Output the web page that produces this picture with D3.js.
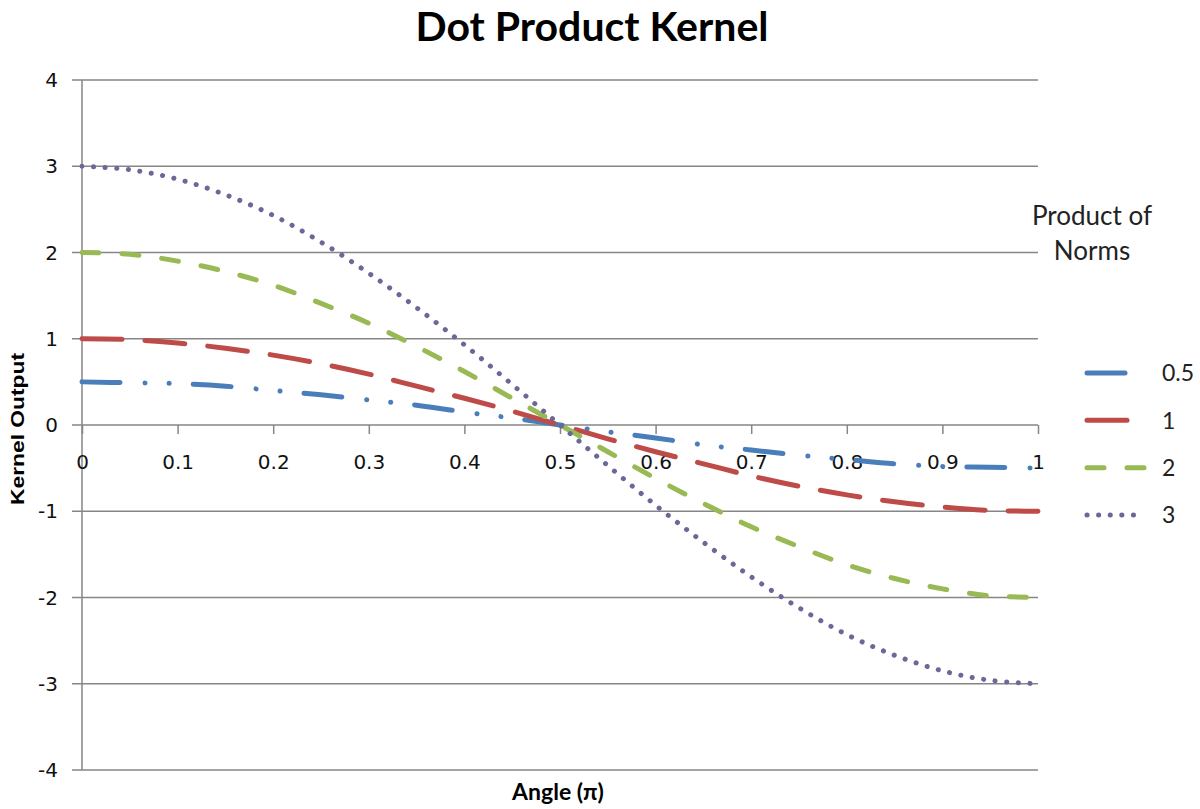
<!DOCTYPE html>
<html lang="en">
  <head>
    <meta charset="UTF-8" />
    <title>Dot Product Kernel</title>
    <script src="https://d3js.org/d3.v7.min.js"></script>
    <style>
      body { margin: 0; background: #fff; }
      .tick text { font-family: "DejaVu Sans", sans-serif; font-size: 20px; fill: #111; }
    </style>
  </head>
  <body>
    <svg width="1200" height="809"></svg>
    <script>
      // angle in units of pi
      const angles = d3.range(0, 1.0001, 0.05);
      // kernel output, one list per product of norms
      const norms = ["0.5", "1", "2", "3"];
      const out05 = [0.5, 0.49, 0.48, 0.45, 0.40, 0.35, 0.29, 0.23, 0.15, 0.08, 0, -0.08, -0.15, -0.23, -0.29, -0.35, -0.40, -0.45, -0.48, -0.49, -0.5];
      const out1 = [1, 0.99, 0.95, 0.89, 0.81, 0.71, 0.59, 0.45, 0.31, 0.16, 0, -0.16, -0.31, -0.45, -0.59, -0.71, -0.81, -0.89, -0.95, -0.99, -1];
      const out2 = [2, 1.98, 1.90, 1.78, 1.62, 1.41, 1.18, 0.91, 0.62, 0.31, 0, -0.31, -0.62, -0.91, -1.18, -1.41, -1.62, -1.78, -1.90, -1.98, -2];
      const out3 = [3, 2.96, 2.85, 2.67, 2.43, 2.12, 1.76, 1.36, 0.93, 0.47, 0, -0.47, -0.93, -1.36, -1.76, -2.12, -2.43, -2.67, -2.85, -2.96, -3];
      const xTicks = d3.range(0, 1.0001, 0.1);
      const yTicks = [-4, -3, -2, -1, 0, 1, 2, 3, 4];

      const styles = [
        { color: "#4a7ebb", dash: "38 25 0.1 24 0.1 24", width: 5, legendLen: 48 },
        { color: "#be4b48", dash: "40 23", width: 5, legendLen: 48 },
        { color: "#98b954", dash: "17 23", width: 5, legendLen: 65 },
        { color: "#6b6898", dash: "0.1 11.5", width: 5, legendLen: 60 }
      ];
      const series = [out05, out1, out2, out3].map((vals, i) => ({
        name: norms[i],
        points: vals.map((v, j) => [angles[j], v]),
        ...styles[i]
      }));

      const svg = d3.select("svg");
      const x = d3.scaleLinear().domain([0, 1]).range([82, 1038]);
      const y = d3.scaleLinear().domain([-4, 4]).range([770, 80]);

      // horizontal gridlines + y axis ticks
      svg.append("g")
        .selectAll("line")
        .data(yTicks)
        .enter()
        .append("line")
        .attr("x1", 72)
        .attr("x2", x(1))
        .attr("y1", d => y(d))
        .attr("y2", d => y(d))
        .attr("stroke", "#868686")
        .attr("stroke-width", 1.5);

      // y axis line
      svg.append("line")
        .attr("x1", x(0)).attr("x2", x(0))
        .attr("y1", y(4)).attr("y2", y(-4))
        .attr("stroke", "#868686")
        .attr("stroke-width", 1.5);

      // y labels
      svg.append("g")
        .attr("class", "tick")
        .selectAll("text")
        .data(yTicks)
        .enter()
        .append("text")
        .attr("x", 58)
        .attr("y", d => y(d))
        .attr("dy", "0.36em")
        .attr("text-anchor", "end")
        .text(d => d);

      // x axis on the zero line
      const xAxis = d3.axisBottom(x)
        .tickValues(xTicks)
        .tickSize(9)
        .tickPadding(21)
        .tickFormat(d => d3.format("~g")(+d.toFixed(1)));
      const gx = svg.append("g")
        .attr("transform", `translate(0,${y(0)})`)
        .call(xAxis);
      gx.select(".domain").remove();
      gx.selectAll(".tick line").attr("stroke", "#868686").attr("stroke-width", 1.5);

      // curves
      const line = d3.line()
        .x(d => x(d[0]))
        .y(d => y(d[1]))
        .curve(d3.curveCatmullRom);

      svg.append("g")
        .selectAll("path")
        .data(series)
        .enter()
        .append("path")
        .attr("d", d => line(d.points))
        .attr("fill", "none")
        .attr("stroke", d => d.color)
        .attr("stroke-width", d => d.width)
        .attr("stroke-dasharray", d => d.dash)
        .attr("stroke-linecap", "round");

      // title
      svg.append("text")
        .attr("x", 592)
        .attr("y", 41)
        .attr("text-anchor", "middle")
        .style("font-family", "Lato, sans-serif")
        .style("font-weight", "bold")
        .style("font-size", "41px")
        .text("Dot Product Kernel");

      // axis titles
      svg.append("text")
        .attr("x", 558)
        .attr("y", 800)
        .attr("text-anchor", "middle")
        .style("font-family", "Lato, sans-serif")
        .style("font-weight", "bold")
        .style("font-size", "23px")
        .text("Angle (π)");

      svg.append("text")
        .attr("transform", "translate(24,429) rotate(-90)")
        .attr("text-anchor", "middle")
        .attr("textLength", 152)
        .attr("lengthAdjust", "spacingAndGlyphs")
        .style("font-family", "'Liberation Sans', Arial, sans-serif")
        .style("font-weight", "bold")
        .style("font-size", "18px")
        .text("Kernel Output");

      // legend
      const legend = svg.append("g");
      legend.append("text")
        .attr("y", 225)
        .attr("text-anchor", "middle")
        .style("font-family", "Lato, sans-serif")
        .style("font-size", "26px")
        .style("fill", "#222")
        .selectAll("tspan")
        .data(["Product of", "Norms"])
        .enter()
        .append("tspan")
        .attr("x", 1092)
        .attr("dy", (d, i) => (i ? 35 : 0))
        .text(d => d);

      const legendY = d3.scaleLinear().domain([0, 3]).range([373, 515]);
      const item = legend.selectAll(".item")
        .data(series)
        .enter()
        .append("g")
        .attr("transform", (d, i) => `translate(1085,${legendY(i)})`);
      item.append("line")
        .attr("x1", 2)
        .attr("x2", d => d.legendLen - 2)
        .attr("stroke", d => d.color)
        .attr("stroke-width", d => d.width)
        .attr("stroke-dasharray", d => d.dash)
        .attr("stroke-linecap", "round");
      item.append("text")
        .attr("x", 77)
        .attr("dy", "0.36em")
        .style("font-family", "Lato, sans-serif")
        .style("font-size", "23px")
        .style("fill", "#222")
        .text(d => d.name);
    </script>
  </body>
</html>
